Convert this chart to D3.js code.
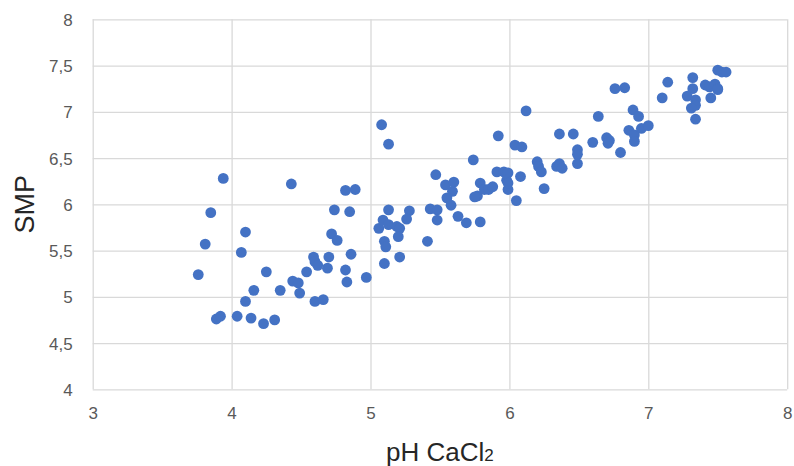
<!DOCTYPE html>
<html>
<head>
<meta charset="utf-8">
<script src="https://cdn.jsdelivr.net/npm/d3@7"></script>
<style>
  html, body { margin: 0; padding: 0; background: #fff; }
  svg { display: block; }
</style>
</head>
<body>
<svg id="chart" width="794" height="466"></svg>
<script>
// Soil pH (CaCl2) readings and the matching SMP buffer index, one pair per sample
const phValues = [
  3.94, 4.43, 3.85, 4.10, 3.81, 4.07, 3.76, 4.25, 4.16, 4.35,
  4.10, 3.89, 3.92, 4.04, 4.14, 4.23, 4.31, 4.74, 4.72, 4.76,
  4.44, 4.48, 4.49, 4.54, 4.59, 4.60, 4.62, 4.69, 4.70, 4.60,
  4.66, 5.08, 5.13, 4.82, 4.89, 4.85, 5.13, 5.28, 5.26, 5.06,
  5.09, 5.13, 5.19, 5.21, 5.20, 5.10, 5.11, 5.21, 5.10, 4.97,
  4.86, 4.82, 4.83, 5.41, 5.47, 5.54, 5.60, 5.59, 5.55, 5.58,
  5.43, 5.48, 5.48, 5.63, 5.69, 5.79, 5.74, 5.79, 5.77, 5.82,
  6.12, 5.92, 6.04, 6.09, 6.36, 6.46, 6.64, 6.76, 6.83, 6.60,
  6.70, 6.72, 6.71, 6.80, 6.86, 6.49, 6.49, 6.49, 6.20, 6.21,
  6.23, 6.34, 6.36, 6.38, 6.25, 5.91, 5.96, 5.99, 5.98, 6.08,
  5.99, 6.05, 5.85, 5.88, 5.75, 5.99, 7.14, 7.10, 7.32, 7.32,
  7.28, 7.34, 7.34, 7.31, 7.34, 7.41, 7.44, 7.48, 7.50, 7.50,
  7.45, 7.50, 7.53, 7.56, 6.89, 6.93, 6.90, 6.95, 7.00, 6.90
];
const smpValues = [
  6.28, 6.22, 5.91, 5.70, 5.57, 5.48, 5.24, 5.27, 5.07, 5.07,
  4.95, 4.76, 4.79, 4.79, 4.77, 4.71, 4.75, 5.94, 5.68, 5.61,
  5.17, 5.15, 5.04, 5.27, 5.43, 5.38, 5.34, 5.31, 5.43, 4.95,
  4.97, 6.86, 6.65, 6.15, 6.16, 5.92, 5.94, 5.93, 5.84, 5.74,
  5.83, 5.78, 5.76, 5.74, 5.65, 5.60, 5.54, 5.43, 5.36, 5.21,
  5.46, 5.29, 5.16, 5.60, 6.32, 6.21, 6.24, 6.14, 6.07, 5.99,
  5.95, 5.94, 5.83, 5.87, 5.80, 5.81, 6.48, 6.23, 6.09, 6.16,
  7.01, 6.74, 6.64, 6.62, 6.76, 6.76, 6.95, 7.25, 7.26, 6.67,
  6.72, 6.69, 6.66, 6.56, 6.80, 6.59, 6.54, 6.44, 6.46, 6.41,
  6.35, 6.41, 6.44, 6.39, 6.17, 6.35, 6.35, 6.34, 6.26, 6.30,
  6.16, 6.04, 6.16, 6.19, 6.08, 6.23, 7.32, 7.15, 7.37, 7.25,
  7.17, 7.13, 7.07, 7.04, 6.92, 7.29, 7.27, 7.30, 7.25, 7.24,
  7.15, 7.45, 7.43, 7.43, 7.02, 6.95, 6.75, 6.82, 6.85, 6.68
];

const xTicks = [3, 4, 5, 6, 7, 8];
const yTicks = [4, 4.5, 5, 5.5, 6, 6.5, 7, 7.5, 8];
const xTitle = "pH CaCl";
const xTitleSub = "2";
const yTitle = "SMP";

const samples = phValues.map((ph, i) => ({ ph, smp: smpValues[i] }));

const svg = d3.select("#chart");
const plot = { left: 92.7, right: 787.2, top: 19.3, bottom: 389.3 };

const x = d3.scaleLinear().domain([3, 8]).range([plot.left, plot.right]);
const y = d3.scaleLinear().domain([4, 8]).range([plot.bottom, plot.top]);

// decimal comma for tick labels
const fmt = d => String(d).replace(".", ",");
const font = "'Liberation Sans', Arial, sans-serif";

// vertical gridlines with x tick labels
const xAxis = d3.axisBottom(x).tickValues(xTicks)
  .tickSize(-(plot.bottom - plot.top)).tickPadding(0).tickFormat(fmt);
const gx = svg.append("g")
  .attr("transform", `translate(0,${plot.bottom})`)
  .call(xAxis);
gx.select(".domain").remove();
gx.selectAll(".tick line").attr("stroke", "#d9d9d9").attr("stroke-width", 1.3);
gx.selectAll(".tick text")
  .attr("y", 30).attr("dy", 0)
  .attr("fill", "#595959")
  .style("font-family", font).style("font-size", "17px");

// horizontal gridlines with y tick labels
const yAxis = d3.axisLeft(y).tickValues(yTicks)
  .tickSize(-(plot.right - plot.left)).tickPadding(0).tickFormat(fmt);
const gy = svg.append("g")
  .attr("transform", `translate(${plot.left},0)`)
  .call(yAxis);
gy.select(".domain").remove();
gy.selectAll(".tick line").attr("stroke", "#d9d9d9").attr("stroke-width", 1.3);
gy.selectAll(".tick text")
  .attr("x", -20).attr("dy", "0.36em")
  .attr("fill", "#595959")
  .style("font-family", font).style("font-size", "17px");

// sample points
svg.append("g")
  .selectAll("circle")
  .data(samples)
  .join("circle")
  .attr("cx", d => x(d.ph))
  .attr("cy", d => y(d.smp))
  .attr("r", 5.4)
  .attr("fill", "#4472c4");

// axis titles
const xt = svg.append("text")
  .attr("x", (plot.left + plot.right) / 2)
  .attr("y", 461)
  .attr("text-anchor", "middle")
  .attr("fill", "#262626")
  .style("font-family", font).style("font-size", "26px");
xt.append("tspan").text(xTitle);
xt.append("tspan").text(xTitleSub).style("font-size", "17px");

svg.append("text")
  .attr("transform", `translate(34,${(plot.top + plot.bottom) / 2}) rotate(-90)`)
  .attr("text-anchor", "middle")
  .attr("fill", "#262626")
  .style("font-family", font).style("font-size", "27px")
  .text(yTitle);
</script>
</body>
</html>
